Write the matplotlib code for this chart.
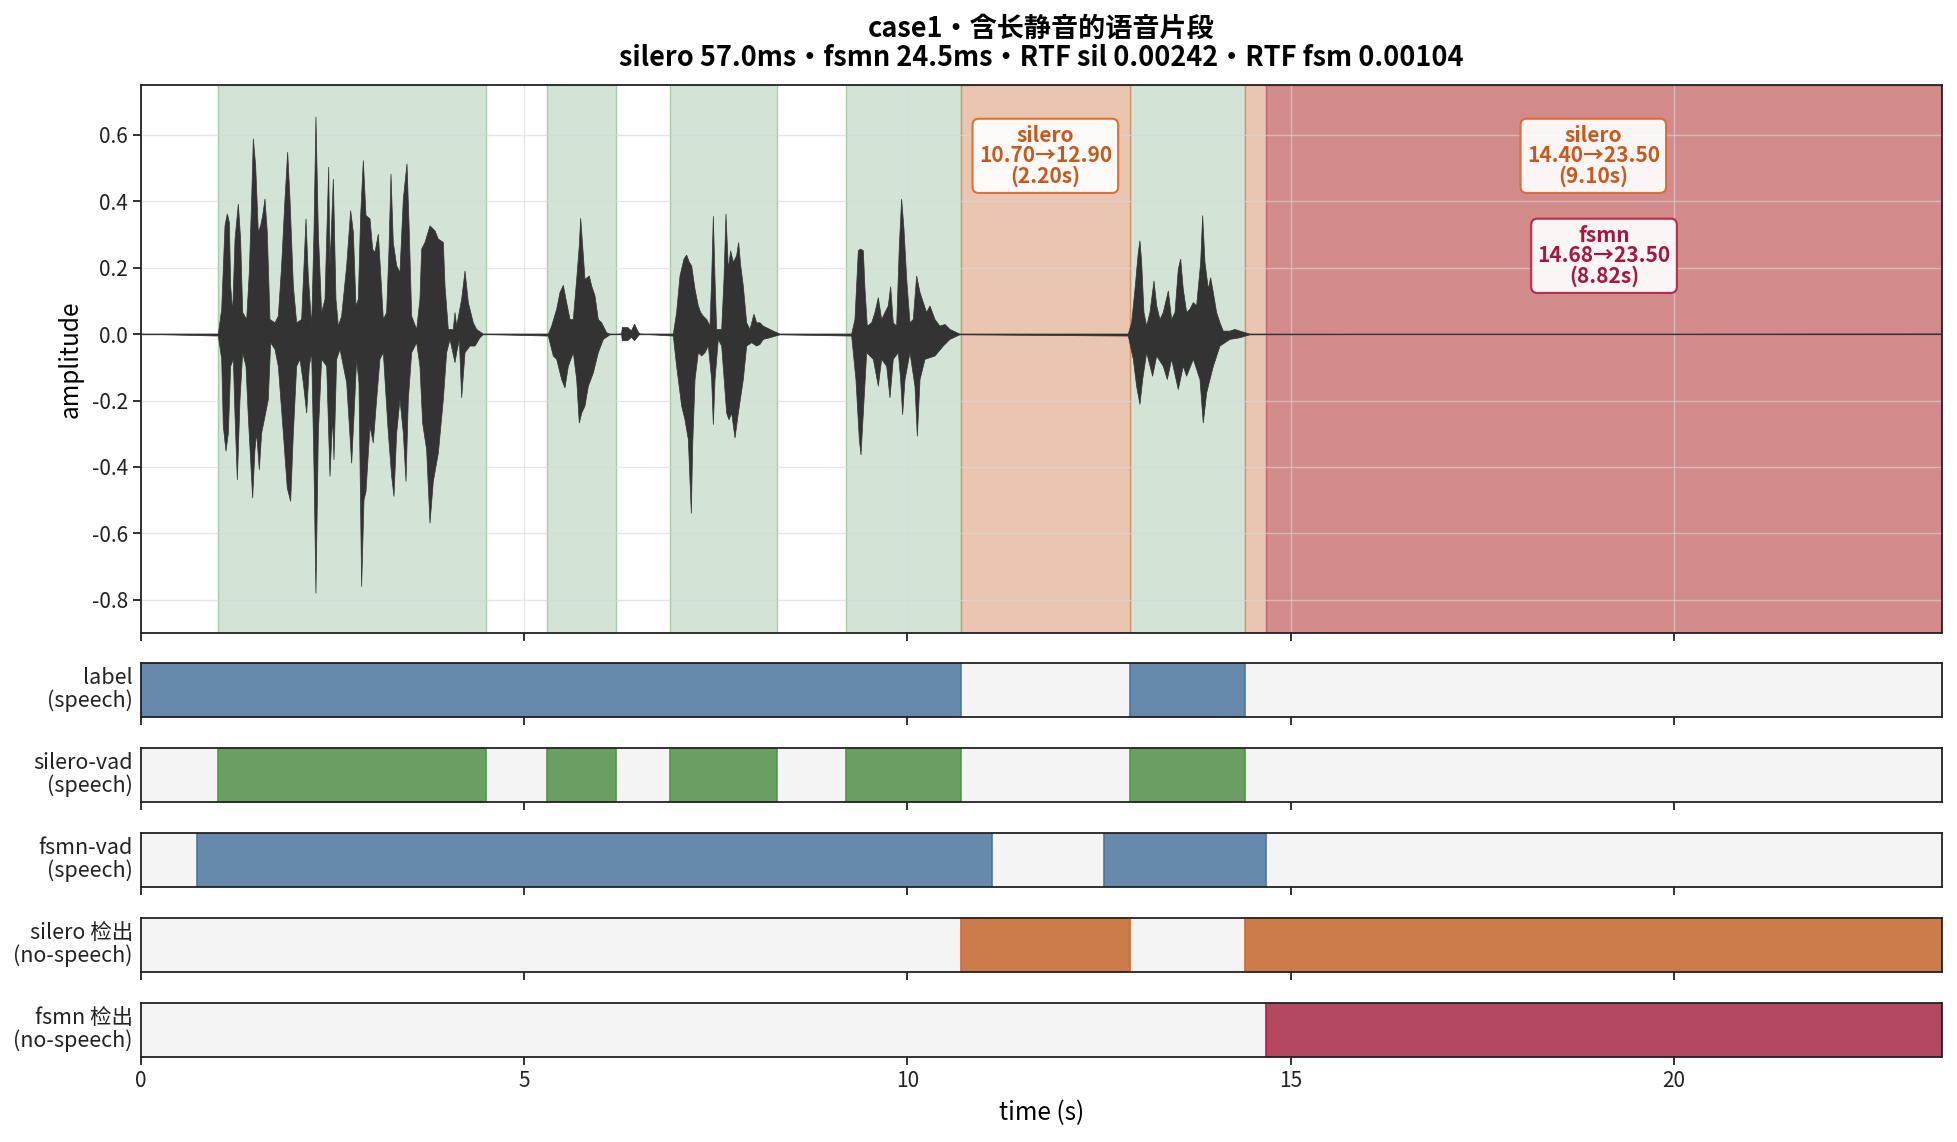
import matplotlib
matplotlib.use("Agg")
import matplotlib.pyplot as plt
import numpy as np

plt.rcParams['font.family'] = ['Noto Sans CJK SC', 'DejaVu Sans']
plt.rcParams['axes.unicode_minus'] = False

# ---------------- data ----------------
duration = 23.5
title_line1 = "case1・含长静音的语音片段"
title_line2 = "silero 57.0ms・fsmn 24.5ms・RTF sil 0.00242・RTF fsm 0.00104"

label_speech = [(0.00, 10.70), (12.90, 14.40)]
silero_speech = [(1.00, 4.50), (5.30, 6.20), (6.90, 8.30), (9.20, 10.70), (12.90, 14.40)]
fsmn_speech = [(0.73, 11.11), (12.57, 14.68)]
silero_nospeech = [(10.70, 12.90), (14.40, 23.50)]
fsmn_nospeech = [(14.68, 23.50)]

strip_names = ["label\n(speech)", "silero-vad\n(speech)", "fsmn-vad\n(speech)",
               "silero 检出\n(no-speech)", "fsmn 检出\n(no-speech)"]

# waveform outline (upper edge and lower edge, time in s)
wave_top_t = [0.0,
    1.009, 1.053, 1.096, 1.126, 1.153, 1.170, 1.196, 1.227, 1.270, 1.300, 1.327, 1.379, 1.413, 1.444,
    1.466, 1.496, 1.531, 1.561, 1.588, 1.618, 1.648, 1.683, 1.748, 1.792, 1.835, 1.879, 1.914, 1.944,
    1.988, 2.031, 2.096, 2.127, 2.153, 2.183, 2.227, 2.257, 2.283, 2.314, 2.357, 2.401, 2.449, 2.466,
    2.510, 2.544, 2.575, 2.618, 2.684, 2.736, 2.771, 2.805, 2.836, 2.866, 2.901, 2.936, 2.988, 3.023,
    3.053, 3.097, 3.127, 3.162, 3.205, 3.236, 3.262, 3.292, 3.336, 3.379, 3.423, 3.471, 3.501, 3.532,
    3.597, 3.640, 3.662, 3.706, 3.771, 3.836, 3.880, 3.945, 3.967, 4.010, 4.075, 4.097, 4.119, 4.184,
    4.228, 4.271, 4.336, 4.380, 4.467,
    5.315, 5.358, 5.424, 5.467, 5.511, 5.545, 5.598, 5.641, 5.685, 5.719, 5.737, 5.763, 5.793, 5.824,
    5.850, 5.880, 5.924, 5.967, 6.011, 6.076, 6.120,
    6.27, 6.28, 6.35, 6.40, 6.44, 6.48, 6.51,
    6.946, 6.989, 7.033, 7.085, 7.120, 7.155, 7.185, 7.229, 7.272, 7.303, 7.337, 7.381, 7.424, 7.446,
    7.468, 7.490, 7.511, 7.577, 7.607, 7.633, 7.664, 7.694, 7.729, 7.772, 7.798, 7.825, 7.859, 7.903,
    7.946, 7.998, 8.033, 8.077, 8.120, 8.164, 8.251, 8.338,
    9.273, 9.316, 9.360, 9.390, 9.425, 9.447, 9.477, 9.534, 9.577, 9.621, 9.664, 9.708, 9.751, 9.782,
    9.816, 9.860, 9.895, 9.925, 9.956, 9.991, 10.034, 10.077, 10.121, 10.165, 10.208, 10.251, 10.295,
    10.360, 10.425, 10.491, 10.556, 10.686,
    12.883, 12.926, 12.970, 13.013, 13.035, 13.057, 13.087, 13.122, 13.165, 13.218, 13.253, 13.296,
    13.339, 13.405, 13.448, 13.492, 13.535, 13.566, 13.600, 13.644, 13.687, 13.731, 13.774, 13.827,
    13.853, 13.883, 13.927, 13.957, 13.992, 14.035, 14.079, 14.122, 14.209, 14.274, 14.340, 14.470,
    23.5]
wave_top_a = [0.0,
    0.0, 0.075, 0.326, 0.362, 0.336, 0.145, 0.065, 0.286, 0.392, 0.286, 0.065, 0.044, 0.185, 0.407,
    0.588, 0.508, 0.306, 0.326, 0.357, 0.407, 0.306, 0.044, 0.034, 0.054, 0.206, 0.407, 0.548, 0.407,
    0.145, 0.034, 0.044, 0.206, 0.347, 0.175, 0.024, 0.306, 0.654, 0.306, 0.065, 0.105, 0.503, 0.206,
    0.467, 0.105, 0.024, 0.054, 0.206, 0.372, 0.306, 0.085, 0.105, 0.357, 0.523, 0.357, 0.347, 0.256,
    0.246, 0.301, 0.185, 0.044, 0.065, 0.256, 0.482, 0.276, 0.206, 0.185, 0.407, 0.513, 0.306, 0.054,
    0.014, 0.105, 0.256, 0.276, 0.326, 0.311, 0.286, 0.276, 0.145, 0.014, 0.014, 0.065, 0.024, 0.105,
    0.190, 0.095, 0.034, 0.014, 0.0,
    0.0, 0.024, 0.075, 0.125, 0.147, 0.105, 0.044, 0.044, 0.165, 0.266, 0.349, 0.266, 0.165, 0.170,
    0.175, 0.145, 0.115, 0.044, 0.034, 0.004, 0.0,
    0.0, 0.02, 0.02, 0.01, 0.03, 0.01, 0.0,
    0.0, 0.065, 0.175, 0.226, 0.238, 0.216, 0.206, 0.135, 0.085, 0.065, 0.054, 0.044, 0.024, 0.165,
    0.355, 0.165, 0.014, 0.014, 0.165, 0.362, 0.195, 0.251, 0.216, 0.236, 0.276, 0.206, 0.145, 0.034,
    0.014, 0.060, 0.034, 0.034, 0.024, 0.019, 0.009, 0.0,
    0.0, 0.044, 0.251, 0.256, 0.251, 0.135, 0.024, 0.034, 0.065, 0.110, 0.044, 0.065, 0.085, 0.143,
    0.034, 0.024, 0.266, 0.407, 0.316, 0.165, 0.034, 0.044, 0.175, 0.125, 0.095, 0.065, 0.085,
    0.044, 0.024, 0.029, 0.014, 0.0,
    0.0, 0.034, 0.135, 0.246, 0.281, 0.216, 0.065, 0.024, 0.065, 0.160, 0.085, 0.044,
    0.065, 0.130, 0.044, 0.065, 0.195, 0.226, 0.135, 0.065, 0.075, 0.095, 0.085, 0.216,
    0.357, 0.216, 0.135, 0.170, 0.125, 0.065, 0.034, 0.009, 0.009, 0.014, 0.009, 0.0,
    0.0]
wave_bot_t = [0.0,
    1.009, 1.053, 1.074, 1.109, 1.140, 1.170, 1.205, 1.227, 1.257, 1.292, 1.327, 1.370, 1.400, 1.457,
    1.487, 1.509, 1.544, 1.574, 1.618, 1.661, 1.692, 1.748, 1.792, 1.857, 1.909, 1.953, 1.988, 2.031,
    2.075, 2.118, 2.162, 2.196, 2.227, 2.257, 2.283, 2.314, 2.357, 2.423, 2.466, 2.501, 2.518, 2.553,
    2.597, 2.684, 2.749, 2.779, 2.814, 2.844, 2.879, 2.910, 2.936, 2.988, 3.031, 3.075, 3.118, 3.162,
    3.227, 3.271, 3.301, 3.336, 3.379, 3.423, 3.458, 3.488, 3.532, 3.597, 3.640, 3.675, 3.727, 3.771,
    3.814, 3.880, 3.945, 3.988, 4.032, 4.097, 4.119, 4.154, 4.184, 4.228, 4.293, 4.358, 4.423, 4.467,
    5.315, 5.380, 5.424, 5.489, 5.532, 5.576, 5.641, 5.685, 5.719, 5.750, 5.793, 5.837, 5.902, 5.967,
    6.033, 6.120,
    6.27, 6.28, 6.35, 6.40, 6.44, 6.51,
    6.946, 6.989, 7.055, 7.098, 7.142, 7.163, 7.181, 7.198, 7.229, 7.272, 7.316, 7.359, 7.403, 7.446,
    7.468, 7.490, 7.533, 7.577, 7.642, 7.672, 7.707, 7.751, 7.794, 7.859, 7.903, 7.968, 8.033, 8.077,
    8.120, 8.207, 8.338,
    9.273, 9.329, 9.373, 9.395, 9.425, 9.469, 9.556, 9.621, 9.664, 9.730, 9.773, 9.816, 9.882, 9.912,
    9.938, 9.969, 10.034, 10.099, 10.130, 10.165, 10.230, 10.295, 10.360, 10.469, 10.556, 10.686,
    12.883, 12.948, 12.991, 13.035, 13.070, 13.122, 13.200, 13.253, 13.339, 13.392, 13.448, 13.535,
    13.600, 13.644, 13.731, 13.818, 13.861, 13.905, 13.992, 14.079, 14.209, 14.340, 14.470,
    23.5]
wave_bot_a = [0.0,
    -0.006, -0.076, -0.278, -0.353, -0.298, -0.097, -0.076, -0.248, -0.439, -0.197, -0.056, -0.097, -0.248, -0.494,
    -0.348, -0.298, -0.409, -0.298, -0.248, -0.197, -0.026, -0.046, -0.097, -0.298, -0.464, -0.504, -0.298, -0.097,
    -0.076, -0.147, -0.238, -0.097, -0.056, -0.399, -0.781, -0.298, -0.076, -0.097, -0.429, -0.248, -0.379, -0.076,
    -0.046, -0.147, -0.389, -0.248, -0.076, -0.147, -0.761, -0.499, -0.474, -0.278, -0.328, -0.197, -0.076, -0.056,
    -0.298, -0.429, -0.489, -0.298, -0.197, -0.298, -0.444, -0.197, -0.056, -0.026, -0.097, -0.268, -0.348, -0.570,
    -0.444, -0.358, -0.197, -0.056, -0.016, -0.086, -0.056, -0.016, -0.192, -0.056, -0.036, -0.036, -0.011, -0.001,
    -0.006, -0.066, -0.076, -0.137, -0.162, -0.097, -0.056, -0.137, -0.268, -0.238, -0.217, -0.157, -0.117, -0.056,
    -0.016, -0.002,
    0.0, -0.02, -0.02, -0.01, -0.02, 0.0,
    -0.006, -0.097, -0.217, -0.258, -0.318, -0.439, -0.540, -0.338, -0.137, -0.056, -0.066, -0.056, -0.036, -0.137,
    -0.273, -0.137, -0.016, -0.036, -0.238, -0.258, -0.238, -0.313, -0.238, -0.137, -0.036, -0.026, -0.036, -0.031,
    -0.016, -0.011, -0.002,
    -0.006, -0.137, -0.318, -0.364, -0.238, -0.056, -0.076, -0.157, -0.076, -0.097, -0.192, -0.076, -0.056, -0.137,
    -0.243, -0.137, -0.056, -0.157, -0.308, -0.137, -0.076, -0.071, -0.066, -0.036, -0.016, -0.002,
    -0.006, -0.076, -0.157, -0.212, -0.137, -0.056, -0.127, -0.066, -0.097, -0.137, -0.076, -0.167,
    -0.097, -0.127, -0.076, -0.137, -0.268, -0.177, -0.097, -0.036, -0.016, -0.011, -0.002,
    0.0]

y_ticks = [-0.8, -0.6, -0.4, -0.2, 0.0, 0.2, 0.4, 0.6]
x_ticks = [0, 5, 10, 15, 20]

# ---------------- colours ----------------
c_wave = '#333333'
c_green_span, c_green_span_edge = '#d3e4d6', '#a9cba9'
c_orange_span, c_orange_span_edge = '#e9c5b2', '#cf9565'
c_red_span, c_red_span_edge = '#d28a8a', '#c46470'
c_blue, c_blue_edge = '#6789ab', '#4a76a0'
c_green, c_green_edge = '#6a9e63', '#4e9a46'
c_orange, c_orange_edge = '#cc7b4b', '#d9682c'
c_red, c_red_edge = '#b44860', '#b41f3e'
c_orange_txt = '#c9581c'
c_red_txt = '#a8163e'
c_strip_bg = '#f4f4f4'
c_spine = '#222222'

W, H = 1958, 1142
fig = plt.figure(figsize=(W / 100, H / 100), dpi=100)

left, right = 141 / W, 1942 / W
ax = fig.add_axes([left, 1 - 633 / H, right - left, (633 - 85) / H])

strip_axes = []
for i in range(5):
    top = 662.7 + 85 * i
    bot = 716.7 + 85 * i
    strip_axes.append(fig.add_axes([left, 1 - bot / H, right - left, (bot - top) / H], sharex=ax))

TICK_FS = 15
STRIP_FS = 15.5

def style_spines(a):
    for s in a.spines.values():
        s.set_color(c_spine)
        s.set_linewidth(1.3)
    a.tick_params(axis='both', colors=c_spine, labelcolor='#222222', labelsize=TICK_FS,
                  length=6, width=1.3)

# ---------------- top panel ----------------
for s, e in silero_speech:
    ax.axvspan(s, e, facecolor=c_green_span, edgecolor=c_green_span_edge, linewidth=1.0, zorder=1)
for s, e in silero_nospeech:
    ax.axvspan(s, e, facecolor=c_orange_span, edgecolor=c_orange_span_edge, linewidth=1.0, zorder=1)
for s, e in fsmn_nospeech:
    ax.axvspan(s, e, facecolor=c_red_span, edgecolor=c_red_span_edge, linewidth=1.0, zorder=1.1)

poly_t = list(wave_top_t) + list(wave_bot_t[::-1])
poly_a = list(wave_top_a) + list(wave_bot_a[::-1])
ax.fill(poly_t, poly_a, facecolor=c_wave, edgecolor=c_wave, linewidth=0.5, zorder=3)
ax.plot([0, duration], [0, 0], color=c_wave, linewidth=0.9, zorder=3)

ax.set_axisbelow('line')
ax.grid(True, color='#d8d8d8', alpha=0.6, linewidth=1.0)
ax.set_xlim(0, duration)
ax.set_ylim(-0.9, 0.75)
ax.set_yticks(y_ticks)
ax.set_yticklabels([f"{v:.1f}" for v in y_ticks])
ax.set_xticks(x_ticks)
style_spines(ax)
ax.tick_params(axis='x', labelbottom=False)
ax.set_ylabel("amplitude", fontsize=17.5, labelpad=6)
ax.set_title(title_line1 + "\n" + title_line2, fontsize=19.5, fontweight='bold', pad=14,
             linespacing=1.05, family=['Noto Sans CJK JP', 'DejaVu Sans'])

# annotations
for s, e in silero_nospeech:
    ax.text((s + e) / 2, 0.537, f"silero\n{s:.2f}→{e:.2f}\n({e - s:.2f}s)",
            ha='center', va='center', fontsize=15, fontweight='bold', color=c_orange_txt,
            linespacing=0.95, zorder=5,
            bbox=dict(boxstyle='round,pad=0.3', facecolor='white', alpha=0.92,
                      edgecolor=c_orange_edge, linewidth=1.5))
for s, e in fsmn_nospeech:
    ax.text((s + e) / 2, 0.236, f"fsmn\n{s:.2f}→{e:.2f}\n({e - s:.2f}s)",
            ha='center', va='center', fontsize=15, fontweight='bold', color=c_red_txt,
            linespacing=0.95, zorder=5,
            bbox=dict(boxstyle='round,pad=0.3', facecolor='white', alpha=0.92,
                      edgecolor=c_red_edge, linewidth=1.5))

# ---------------- strips ----------------
strip_data = [
    (label_speech, c_blue, c_blue_edge),
    (silero_speech, c_green, c_green_edge),
    (fsmn_speech, c_blue, c_blue_edge),
    (silero_nospeech, c_orange, c_orange_edge),
    (fsmn_nospeech, c_red, c_red_edge),
]
for i, (a, (segs, fc, ec)) in enumerate(zip(strip_axes, strip_data)):
    a.set_facecolor(c_strip_bg)
    for s, e in segs:
        a.axvspan(s, e, facecolor=fc, edgecolor=ec, linewidth=1.2)
    a.set_ylim(0, 1)
    a.set_yticks([])
    a.set_xlim(0, duration)
    a.set_xticks(x_ticks)
    style_spines(a)
    a.text(-0.0045, 0.5, strip_names[i], transform=a.transAxes, ha='right', va='center',
           fontsize=STRIP_FS, linespacing=1.0, color='#222222')
    if i < 4:
        a.tick_params(axis='x', labelbottom=False)

strip_axes[-1].set_xlabel("time (s)", fontsize=17.5, labelpad=6)

fig.savefig("out.png", dpi=100)
